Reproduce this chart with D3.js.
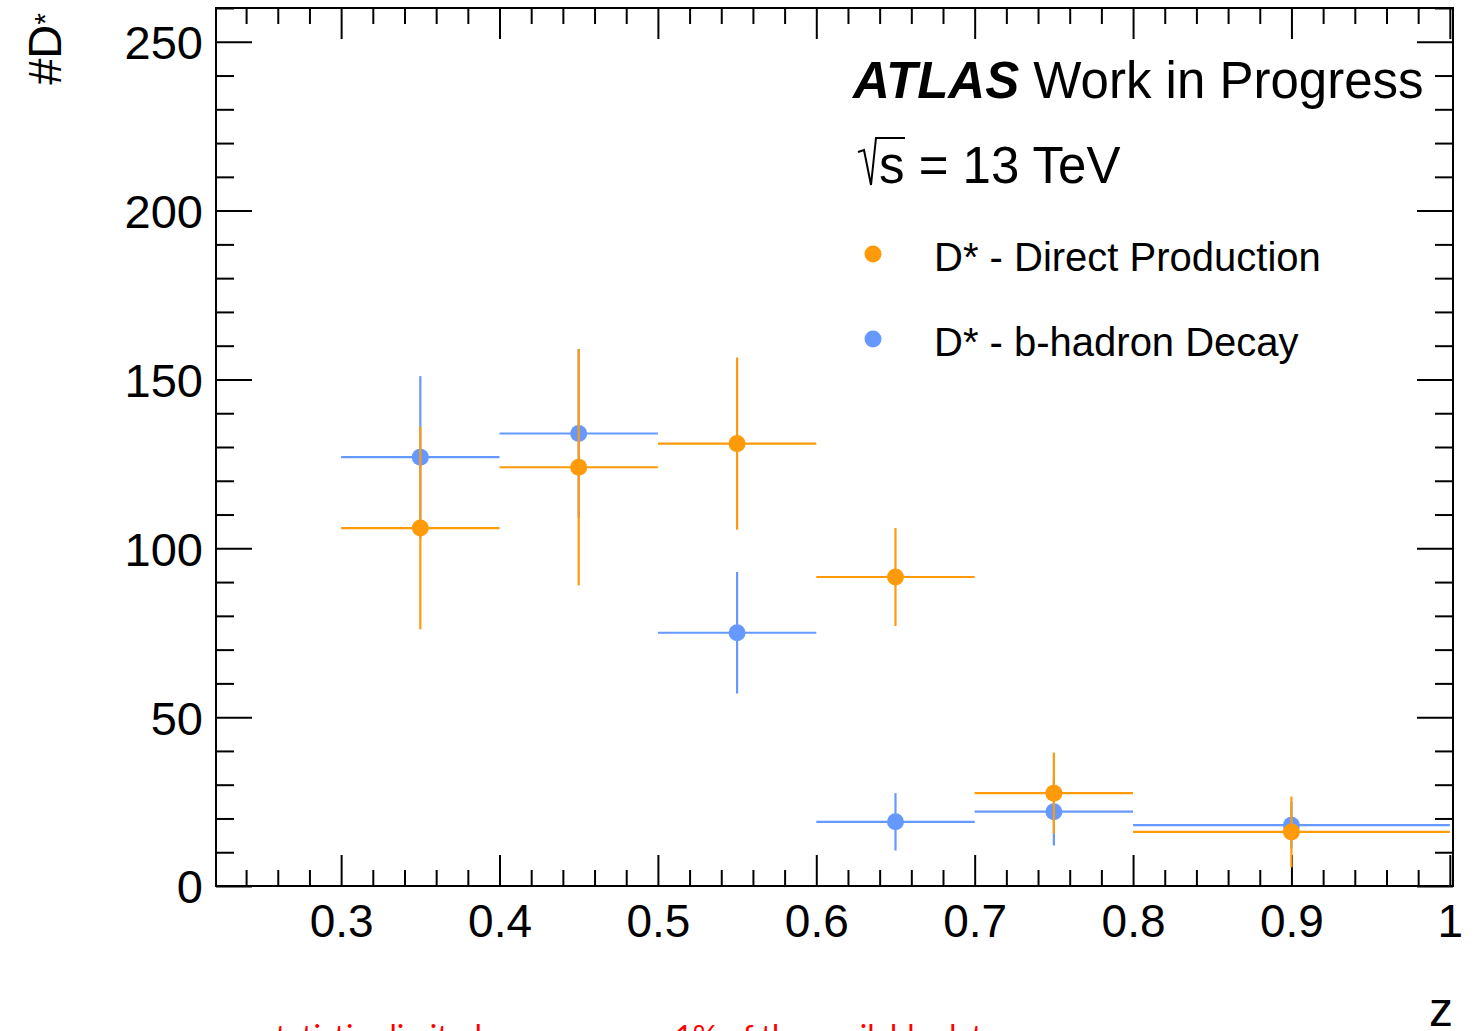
<!DOCTYPE html>
<html>
<head>
<meta charset="utf-8">
<script src="https://cdn.jsdelivr.net/npm/d3@7"></script>
<style>
  html, body { margin: 0; padding: 0; background: #fff; }
  svg { display: block; }
  text { font-family: "Liberation Sans", Arial, Helvetica, sans-serif; }
</style>
</head>
<body>
<svg id="chart" width="1475" height="1031"></svg>
<script>
// ---- data ----
const binLo = [0.3, 0.4, 0.5, 0.6, 0.7, 0.8];
const binHi = [0.4, 0.5, 0.6, 0.7, 0.8, 1.0];
const directVals = [106, 124, 131, 91.5, 27.5, 16];
const directErrs = [30, 35, 25.5, 14.5, 12, 10.5];
const bdecayVals = [127, 134, 75, 19, 22, 18];
const bdecayErrs = [24, 25, 18, 8.5, 10, 7];
const xMajorTicks = [0.3, 0.4, 0.5, 0.6, 0.7, 0.8, 0.9, 1.0];
const xTickLabels = ["0.3", "0.4", "0.5", "0.6", "0.7", "0.8", "0.9", "1"];
const yMajorTicks = [0, 50, 100, 150, 200, 250];
const yTickLabels = ["0", "50", "100", "150", "200", "250"];
const seriesNames = ["D* - Direct Production", "D* - b-hadron Decay"];

const ORANGE = "#ff9a0a";
const BLUE = "#6699ff";

const svg = d3.select("#chart");
const L = 216, R = 1453, T = 8, B = 886;

const x = d3.scaleLinear().domain([0.221, 1.002]).range([L, R]);
const y = d3.scaleLinear().domain([0, 260]).range([B, T]);

const xMinor = d3.range(0.24, 1.001, 0.02).filter(v => !xMajorTicks.some(m => Math.abs(m - v) < 1e-6));
const yMinor = d3.range(0, 261, 10).filter(v => v % 50 !== 0);

function styleAxis(g) {
  g.select(".domain").remove();
  g.selectAll("line").attr("stroke", "#000").attr("stroke-width", 2);
}

// bottom axis
svg.append("g").attr("transform", `translate(0,${B})`)
  .call(d3.axisBottom(x).tickValues(xMinor).tickSize(-16).tickFormat(""))
  .call(styleAxis);
const gxb = svg.append("g").attr("transform", `translate(0,${B})`)
  .call(d3.axisBottom(x).tickValues(xMajorTicks).tickSize(-31)
        .tickFormat((d, i) => xTickLabels[i]))
  .call(styleAxis);
gxb.selectAll("text").attr("y", 51).attr("dy", 0)
  .attr("font-size", 46).attr("fill", "#000")
  .style("font-family", '"Liberation Sans", Arial, sans-serif');

// top axis
svg.append("g").attr("transform", `translate(0,${T})`)
  .call(d3.axisTop(x).tickValues(xMinor).tickSize(-16).tickFormat(""))
  .call(styleAxis);
svg.append("g").attr("transform", `translate(0,${T})`)
  .call(d3.axisTop(x).tickValues(xMajorTicks).tickSize(-31).tickFormat(""))
  .call(styleAxis);

// left axis
svg.append("g").attr("transform", `translate(${L},0)`)
  .call(d3.axisLeft(y).tickValues(yMinor).tickSize(-18).tickFormat(""))
  .call(styleAxis);
const gyl = svg.append("g").attr("transform", `translate(${L},0)`)
  .call(d3.axisLeft(y).tickValues(yMajorTicks).tickSize(-36)
        .tickFormat((d, i) => yTickLabels[i]))
  .call(styleAxis);
gyl.selectAll("text").attr("x", -13).attr("dy", "0.36em")
  .attr("font-size", 47).attr("fill", "#000")
  .style("font-family", '"Liberation Sans", Arial, sans-serif');

// right axis
svg.append("g").attr("transform", `translate(${R},0)`)
  .call(d3.axisRight(y).tickValues(yMinor).tickSize(-18).tickFormat(""))
  .call(styleAxis);
svg.append("g").attr("transform", `translate(${R},0)`)
  .call(d3.axisRight(y).tickValues(yMajorTicks).tickSize(-36).tickFormat(""))
  .call(styleAxis);

// frame
svg.append("rect").attr("x", L).attr("y", T).attr("width", R - L).attr("height", B - T)
  .attr("fill", "none").attr("stroke", "#000").attr("stroke-width", 2);

// series
function drawSeries(vals, errs, color) {
  const g = svg.append("g");
  const data = vals.map((v, i) => ({ v, e: errs[i], lo: binLo[i], hi: binHi[i], c: (binLo[i] + binHi[i]) / 2 }));
  g.selectAll("line.h").data(data).join("line")
    .attr("x1", d => x(d.lo)).attr("x2", d => x(d.hi))
    .attr("y1", d => y(d.v)).attr("y2", d => y(d.v))
    .attr("stroke", color).attr("stroke-width", 2.2);
  g.selectAll("line.v").data(data).join("line")
    .attr("x1", d => x(d.c)).attr("x2", d => x(d.c))
    .attr("y1", d => y(d.v - d.e)).attr("y2", d => y(d.v + d.e))
    .attr("stroke", color).attr("stroke-width", 2.2);
  g.selectAll("circle").data(data).join("circle")
    .attr("cx", d => x(d.c)).attr("cy", d => y(d.v)).attr("r", 8.5)
    .attr("fill", color);
}
drawSeries(bdecayVals, bdecayErrs, BLUE);
drawSeries(directVals, directErrs, ORANGE);

// ATLAS label
const t1 = svg.append("text").attr("x", 853).attr("y", 98).attr("font-size", 51).attr("fill", "#000");
t1.append("tspan").attr("font-weight", "bold").attr("font-style", "italic").text("ATLAS");
t1.append("tspan").text(" Work in Progress");

// sqrt(s) = 13 TeV
svg.append("path")
  .attr("d", "M858,152 L864,150 L871,185 L876,138 L905,138")
  .attr("fill", "none").attr("stroke", "#000").attr("stroke-width", 2);
svg.append("text").attr("x", 879).attr("y", 183).attr("font-size", 51).attr("fill", "#000")
  .text("s = 13 TeV");

// legend
const legendColors = [ORANGE, BLUE];
const legendY = [254, 339];
seriesNames.forEach((name, i) => {
  svg.append("circle").attr("cx", 873).attr("cy", legendY[i]).attr("r", 8.5).attr("fill", legendColors[i]);
  svg.append("text").attr("x", 934).attr("y", legendY[i] + 17).attr("font-size", 40).attr("fill", "#000").text(name);
});

// y axis title
const yt = svg.append("text").attr("transform", "translate(61,13) rotate(-90)")
  .attr("text-anchor", "end").attr("font-size", 47).attr("fill", "#000");
yt.append("tspan").text("#D");
yt.append("tspan").attr("font-size", 30).attr("dy", -6).text("*");

// x axis title
svg.append("text").attr("x", 1453).attr("y", 1026).attr("text-anchor", "end")
  .attr("font-size", 48).attr("fill", "#000").text("z");

// red note (cut off at bottom of the image, as in the reference)
svg.append("text").attr("x", 262).attr("y", 1047).attr("font-size", 31).attr("fill", "#ff0000")
  .style("font-family", "Lato, 'Open Sans', sans-serif")
  .text("statistics limited: we process ~1% of the available data");
</script>
</body>
</html>
